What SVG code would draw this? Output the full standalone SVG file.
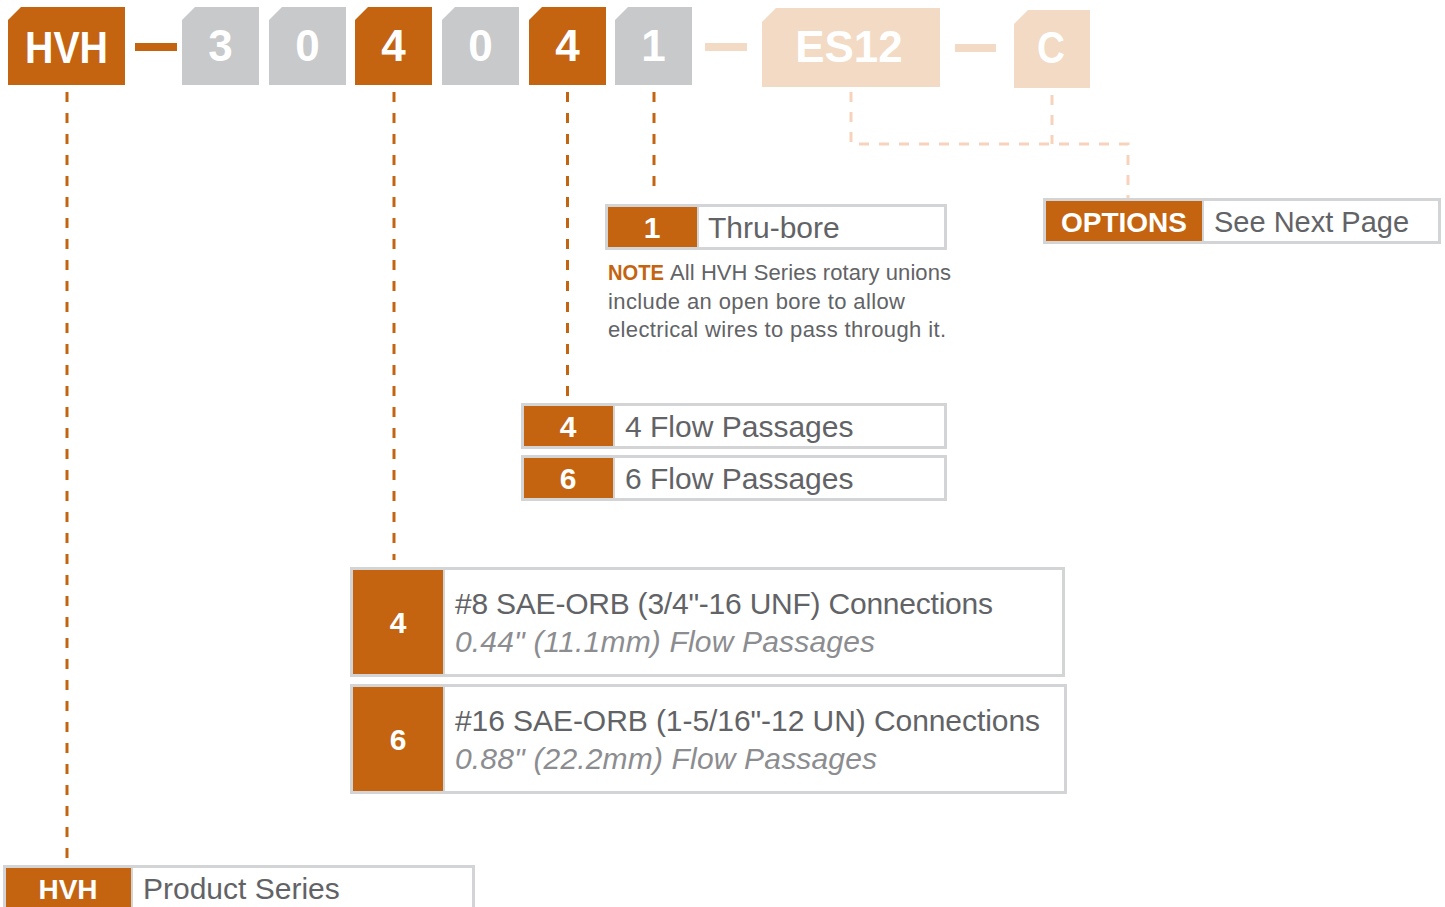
<svg xmlns="http://www.w3.org/2000/svg" width="1445" height="907" viewBox="0 0 1445 907">
<style>
.or{fill:#C46410}
.gr{fill:#C8C9CB}
.pe{fill:#F2DAC4}
.hd{font-family:"Liberation Sans",Arial,sans-serif;font-weight:bold;font-size:44px;fill:#fff;text-anchor:middle}
.box{fill:#fff;stroke:#D3D4D6;stroke-width:3}
.sep{stroke:#D3D4D6;stroke-width:2}
.k{font-family:"Liberation Sans",Arial,sans-serif;font-weight:bold;font-size:30px;fill:#fff;text-anchor:middle}
.t{font-family:"Liberation Sans",Arial,sans-serif;font-size:30px;fill:#626366}
.ti{font-family:"Liberation Sans",Arial,sans-serif;font-size:30px;font-style:italic;fill:#8C8D90}
.n{font-family:"Liberation Sans",Arial,sans-serif;font-size:22px;fill:#626366}
.nb{font-family:"Liberation Sans",Arial,sans-serif;font-size:22px;font-weight:bold;fill:#C46410}
.dl{fill:none;stroke:#C46410;stroke-width:3;stroke-dasharray:10 11}
.dp{fill:none;stroke:#F7D3BD;stroke-width:3;stroke-dasharray:10 10}
</style>
<rect width="1445" height="907" fill="#fff"/>

<g id="connectors">
  <line class="dl" x1="67" y1="92" x2="67" y2="862"/>
  <line class="dl" x1="394" y1="92" x2="394" y2="560"/>
  <line class="dl" x1="567.5" y1="92" x2="567.5" y2="398"/>
  <line class="dl" x1="654" y1="92" x2="654" y2="196"/>
  <polyline class="dp" points="851,92 851,144 1128,144 1128,199"/>
  <line class="dp" x1="1052" y1="95" x2="1052" y2="144"/>
</g>

<g id="header">
  <g id="h-hvh">
    <path class="or" d="M8,20 L21,7 L125,7 L125,85 L8,85 Z"/>
    <text class="hd" x="66.5" y="63" textLength="83" lengthAdjust="spacingAndGlyphs">HVH</text>
  </g>
  <rect id="h-dash1" class="or" x="135" y="43" width="42" height="8"/>
  <g id="h-3">
    <path class="gr" d="M182,20 L195,7 L259,7 L259,85 L182,85 Z"/>
    <text class="hd" x="220.5" y="61">3</text>
  </g>
  <g id="h-0a">
    <path class="gr" d="M269,20 L282,7 L346,7 L346,85 L269,85 Z"/>
    <text class="hd" x="307.5" y="61">0</text>
  </g>
  <g id="h-4a">
    <path class="or" d="M355,20 L368,7 L432,7 L432,85 L355,85 Z"/>
    <text class="hd" x="393.5" y="61">4</text>
  </g>
  <g id="h-0b">
    <path class="gr" d="M442,20 L455,7 L519,7 L519,85 L442,85 Z"/>
    <text class="hd" x="480.5" y="61">0</text>
  </g>
  <g id="h-4b">
    <path class="or" d="M529,20 L542,7 L606,7 L606,85 L529,85 Z"/>
    <text class="hd" x="567.5" y="61">4</text>
  </g>
  <g id="h-1">
    <path class="gr" d="M615,20 L628,7 L692,7 L692,85 L615,85 Z"/>
    <text class="hd" x="653.5" y="61">1</text>
  </g>
  <rect id="h-dash2" class="pe" x="705" y="43" width="42" height="8"/>
  <g id="h-es12">
    <path class="pe" d="M762,22 L776,8 L940,8 L940,87 L762,87 Z"/>
    <text class="hd" x="849" y="62">ES12</text>
  </g>
  <rect id="h-dash3" class="pe" x="955" y="44" width="41" height="8"/>
  <g id="h-c">
    <path class="pe" d="M1014,24 L1028,10 L1090,10 L1090,88 L1014,88 Z"/>
    <text class="hd" x="1051" y="63" textLength="28" lengthAdjust="spacingAndGlyphs">C</text>
  </g>
</g>

<g id="n-thrubore">
  <rect class="box" x="606.5" y="205.5" width="339" height="43"/>
  <rect class="or" x="608" y="207" width="89" height="40"/>
  <line class="sep" x1="698" y1="207" x2="698" y2="247"/>
  <text class="k" x="652" y="238">1</text>
  <text class="t" x="708" y="238">Thru-bore</text>
</g>

<g id="n-note">
  <text class="nb" x="608" y="280" textLength="56" lengthAdjust="spacingAndGlyphs">NOTE</text>
  <text class="n" x="670" y="280" textLength="281">All HVH Series rotary unions</text>
  <text class="n" x="608" y="309" textLength="297">include an open bore to allow</text>
  <text class="n" x="608" y="337" textLength="338">electrical wires to pass through it.</text>
</g>

<g id="n-options">
  <rect class="box" x="1044.5" y="199.5" width="395" height="43"/>
  <rect class="or" x="1046" y="201" width="156" height="40"/>
  <line class="sep" x1="1203" y1="201" x2="1203" y2="241"/>
  <text class="k" x="1124" y="232" style="font-size:28px">OPTIONS</text>
  <text class="t" x="1214" y="232" style="font-size:29px">See Next Page</text>
</g>

<g id="n-4flow">
  <rect class="box" x="522.5" y="404.5" width="423" height="43"/>
  <rect class="or" x="524" y="406" width="89" height="40"/>
  <line class="sep" x1="614" y1="406" x2="614" y2="446"/>
  <text class="k" x="568" y="437">4</text>
  <text class="t" x="625" y="437">4 Flow Passages</text>
</g>

<g id="n-6flow">
  <rect class="box" x="522.5" y="456.5" width="423" height="43"/>
  <rect class="or" x="524" y="458" width="89" height="40"/>
  <line class="sep" x1="614" y1="458" x2="614" y2="498"/>
  <text class="k" x="568" y="489">6</text>
  <text class="t" x="625" y="489">6 Flow Passages</text>
</g>

<g id="n-conn4">
  <rect class="box" x="351.5" y="568.5" width="712" height="107"/>
  <rect class="or" x="353" y="570" width="90" height="104"/>
  <line class="sep" x1="444" y1="570" x2="444" y2="674"/>
  <text class="k" x="398" y="633">4</text>
  <text class="t" x="455" y="614" textLength="538">#8 SAE-ORB (3/4"-16 UNF) Connections</text>
  <text class="ti" x="455" y="652" textLength="420">0.44" (11.1mm) Flow Passages</text>
</g>

<g id="n-conn6">
  <rect class="box" x="351.5" y="685.5" width="714" height="107"/>
  <rect class="or" x="353" y="687" width="90" height="104"/>
  <line class="sep" x1="444" y1="687" x2="444" y2="791"/>
  <text class="k" x="398" y="750">6</text>
  <text class="t" x="455" y="731" textLength="585">#16 SAE-ORB (1-5/16"-12 UN) Connections</text>
  <text class="ti" x="455" y="769" textLength="422">0.88" (22.2mm) Flow Passages</text>
</g>

<g id="n-hvh">
  <rect class="box" x="4.5" y="866.5" width="469" height="60"/>
  <rect class="or" x="6" y="868" width="125" height="60"/>
  <line class="sep" x1="132" y1="868" x2="132" y2="928"/>
  <text class="k" x="68" y="899" style="font-size:28px">HVH</text>
  <text class="t" x="143" y="899">Product Series</text>
</g>
</svg>
